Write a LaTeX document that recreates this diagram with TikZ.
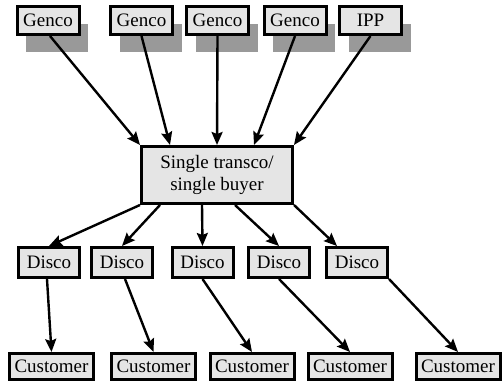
\documentclass[tikz,border=0pt]{standalone}
\usepackage{fontspec}
\setmainfont{Liberation Serif}
\usetikzlibrary{arrows.meta,shadows}

\begin{document}
\begin{tikzpicture}[x=1pt,y=-1pt,
  box/.style={draw=black, line width=3pt, fill=black!10, inner sep=0pt, font=\fontsize{19}{22}\selectfont},
  gen/.style={box, minimum width=62pt, minimum height=28pt,
    general shadow={fill=black!40, shadow xshift=9pt, shadow yshift=-18pt}},
  disco/.style={box, minimum width=61pt, minimum height=30pt},
  cust/.style={box, minimum width=84pt, minimum height=26pt},
  arr/.style={line width=2.4pt, -{Stealth[length=13pt,width=11pt,inset=2pt]}}]
\useasboundingbox (0,0) rectangle (502,387);

\node[gen] (g1) at (48,20.5) {Genco};
\node[gen] (g2) at (141.5,20.5) {Genco};
\node[gen] (g3) at (217.5,20.5) {Genco};
\node[gen] (g4) at (295,20.5) {Genco};
\node[gen] (ipp) at (370.5,20.5) {IPP};

\node[box, minimum width=151pt, minimum height=57pt, align=center] (sb) at (217,175) {Single transco/\\single buyer};

\node[disco] (d1) at (49,262.5) {Disco};
\node[disco] (d2) at (122,262.5) {Disco};
\node[disco] (d3) at (202.5,262.5) {Disco};
\node[disco] (d4) at (279,262.5) {Disco};
\node[disco] (d5) at (357,262.5) {Disco};

\node[cust] (c1) at (51.5,366.5) {Customer};
\node[cust] (c2) at (153.5,366.5) {Customer};
\node[cust] (c3) at (252,366.5) {Customer};
\node[cust] (c4) at (350,366.5) {Customer};
\node[cust] (c5) at (458,366.5) {Customer};

\draw[arr] ([xshift=2pt]g1.south) -- (sb.north west);
\draw[arr] (g2.south) -- ([xshift=-47pt]sb.north);
\draw[arr] (g3.south) -- (sb.north);
\draw[arr] (g4.south) -- ([xshift=37pt]sb.north);
\draw[arr] (ipp.south) -- (sb.north east);

\draw[arr] (sb.south west) -- (d1.north);
\draw[arr] ([xshift=-57pt]sb.south) -- (d2.north);
\draw[arr] ([xshift=-15pt]sb.south) -- (d3.north);
\draw[arr] ([xshift=18pt]sb.south) -- (d4.north);
\draw[arr] (sb.south east) -- ([xshift=-20pt]d5.north);

\draw[arr] ([xshift=-2pt]d1.south) -- (c1.north);
\draw[arr] ([xshift=3pt]d2.south) -- (c2.north);
\draw[arr] (d3.south) -- (c3.north);
\draw[arr] (d4.south) -- (c4.north);
\draw[arr] (d5.south east) -- (c5.north);
\end{tikzpicture}
\end{document}
